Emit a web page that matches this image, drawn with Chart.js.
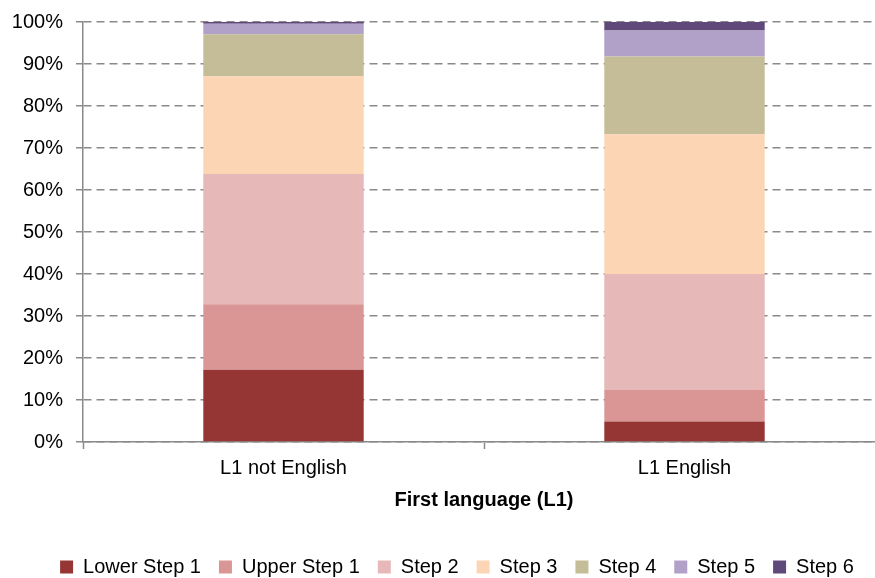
<!DOCTYPE html>
<html>
<head>
<meta charset="utf-8">
<script src="https://cdn.jsdelivr.net/npm/chart.js@4.4.0/dist/chart.umd.min.js"></script>
<style>
  html, body { margin: 0; padding: 0; background: #fff; }
  body { width: 875px; height: 578px; overflow: hidden; position: relative; }
  #wrap { position: absolute; left: 0; top: 0; width: 914px; height: 587px; }
</style>
</head>
<body>
<div id="wrap"><canvas id="chart"></canvas></div>
<script>
// categories and series (percent of pupils)
const categories = ['L1 not English', 'L1 English'];
const stepNames = ['Lower Step 1', 'Upper Step 1', 'Step 2', 'Step 3', 'Step 4', 'Step 5', 'Step 6'];
const lowerStep1 = [17.2, 4.9];
const upperStep1 = [15.6, 7.5];
const step2 = [31.0, 27.6];
const step3 = [23.3, 33.3];
const step4 = [10.0, 18.5];
const step5 = [2.5, 6.2];
const step6 = [0.4, 2.0];
const yTicks = [0, 10, 20, 30, 40, 50, 60, 70, 80, 90, 100];

const seriesValues = [lowerStep1, upperStep1, step2, step3, step4, step5, step6];
const colors = ['#963634', '#DA9694', '#E6B8B7', '#FCD5B4', '#C4BD97', '#B1A0C7', '#60497A'];

const font = "'Liberation Sans', Arial, sans-serif";
const axisGrey = '#8a8a8a';

const ctx = document.getElementById('chart').getContext('2d');
const chart = new Chart(ctx, {
  type: 'bar',
  data: {
    labels: categories,
    datasets: stepNames.map((name, i) => ({
      label: name,
      data: seriesValues[i],
      backgroundColor: colors[i],
      borderWidth: 0,
      barPercentage: 0.4,
      categoryPercentage: 1.0
    }))
  },
  options: {
    responsive: true,
    maintainAspectRatio: false,
    animation: false,
    layout: { padding: { top: 22, left: 0, right: 0, bottom: 0 } },
    scales: {
      x: {
        stacked: true,
        offset: true,
        grid: {
          display: true,
          offset: true,
          drawOnChartArea: false,
          drawTicks: true,
          tickLength: 7,
          tickColor: axisGrey,
          tickWidth: 1.5
        },
        border: { display: true, color: axisGrey, width: 1.5 },
        ticks: { color: '#000', font: { family: font, size: 20 }, padding: 7 },
        title: {
          display: true,
          text: 'First language (L1)',
          color: '#000',
          font: { family: font, size: 20, weight: 'bold' },
          padding: { top: 1, bottom: 27 }
        }
      },
      y: {
        stacked: true,
        min: 0,
        max: 100,
        afterFit: (scale) => {
          scale.width = 83;
          scale.paddingTop = 0;
          scale.paddingBottom = 0;
        },
        afterBuildTicks: (scale) => { scale.ticks = yTicks.map(v => ({ value: v })); },
        grid: {
          color: axisGrey,
          lineWidth: 1.5,
          tickLength: 7,
          tickColor: axisGrey,
          tickWidth: 1.5,
          tickBorderDash: []
        },
        border: { display: true, color: axisGrey, width: 1.5, dash: [8, 5] },
        ticks: {
          color: '#000',
          font: { family: font, size: 20 },
          padding: 13,
          callback: (v) => v + '%'
        }
      },
      // empty right-hand axis: lets the plot run past the page edge while the legend stays centred
      pad: {
        position: 'right',
        display: true,
        afterFit: (scale) => { scale.width = 29; },
        grid: { display: false },
        border: { display: false },
        ticks: { display: false }
      }
    },
    plugins: {
      legend: {
        position: 'bottom',
        labels: {
          color: '#000',
          font: { family: font, size: 20 },
          boxWidth: 13,
          boxHeight: 13,
          padding: 18
        }
      },
      tooltip: { enabled: false }
    }
  }
});
</script>
</body>
</html>
